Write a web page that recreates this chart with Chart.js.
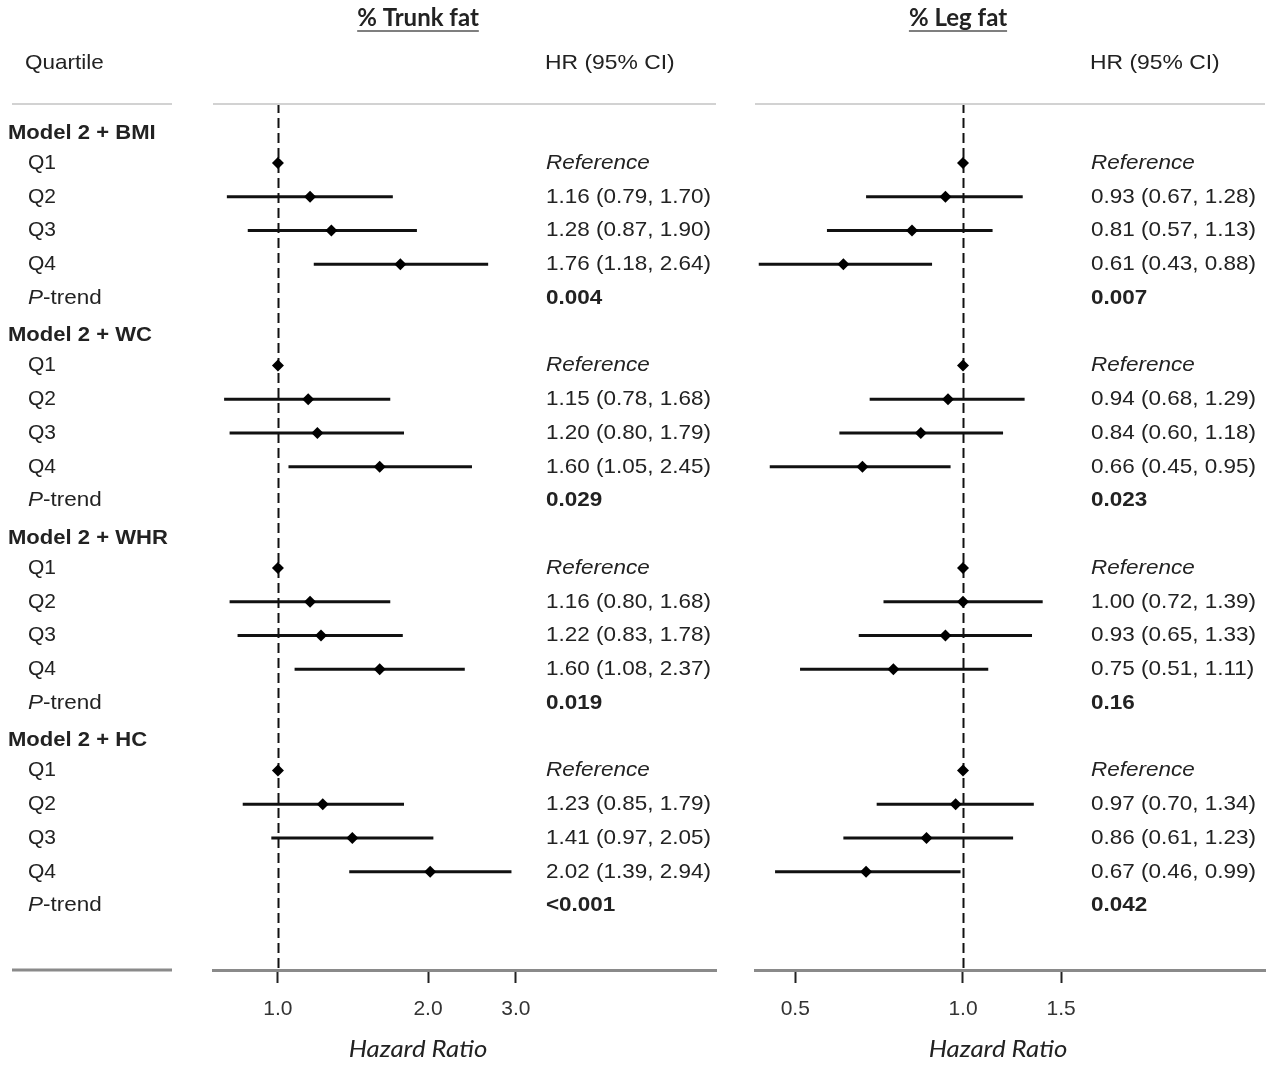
<!DOCTYPE html>
<html>
<head>
<meta charset="utf-8">
<title>Hazard ratio by quartile of % trunk fat and % leg fat</title>
<script src="https://cdn.jsdelivr.net/npm/chart.js@4.4.1/dist/chart.umd.min.js"></script>
<style>
  html, body { margin: 0; padding: 0; background: #fff; }
  #wrap { position: relative; width: 1275px; height: 1065px; }
  #wrap canvas { position: absolute; left: 0; top: 0; }
</style>
</head>
<body>
<div id="wrap">
  <canvas id="trunk-chart" width="1275" height="1065"></canvas>
  <canvas id="leg-chart" width="1275" height="1065"></canvas>
</div>
<script>
// forest plot, two panels sharing one row layout

const models = ['Model 2 + BMI', 'Model 2 + WC', 'Model 2 + WHR', 'Model 2 + HC'];
const quartiles = ['Q1', 'Q2', 'Q3', 'Q4'];

// Q2..Q4 for each model (Q1 is the reference, HR = 1)
const trunkHR   = [[1.16, 1.28, 1.76], [1.15, 1.20, 1.60], [1.16, 1.22, 1.60], [1.23, 1.41, 2.02]];
const trunkLow  = [[0.79, 0.87, 1.18], [0.78, 0.80, 1.05], [0.80, 0.83, 1.08], [0.85, 0.97, 1.39]];
const trunkHigh = [[1.70, 1.90, 2.64], [1.68, 1.79, 2.45], [1.68, 1.78, 2.37], [1.79, 2.05, 2.94]];
const trunkPTrend = ['0.004', '0.029', '0.019', '<0.001'];

const legHR   = [[0.93, 0.81, 0.61], [0.94, 0.84, 0.66], [1.00, 0.93, 0.75], [0.97, 0.86, 0.67]];
const legLow  = [[0.67, 0.57, 0.43], [0.68, 0.60, 0.45], [0.72, 0.65, 0.51], [0.70, 0.61, 0.46]];
const legHigh = [[1.28, 1.13, 0.88], [1.29, 1.18, 0.95], [1.39, 1.33, 1.11], [1.34, 1.23, 0.99]];
const legPTrend = ['0.007', '0.023', '0.16', '0.042'];

const trunkTicks = [1.0, 2.0, 3.0];
const legTicks = [0.5, 1.0, 1.5];

const FONT = '"Liberation Sans", Arial, sans-serif';
const TITLE_FONT = 'Lato, "Open Sans", sans-serif';
const TEXT = '#222';
const SX = 1.07; // the source figure is a little wider than tall

// row index: 0 = model header, 1-4 = Q1-Q4, 5 = P-trend
function rowOf(m, k) { return m * 6 + k; }

const panels = [
  { id: 'trunk-chart', title: '% Trunk fat', hr: trunkHR, low: trunkLow, high: trunkHigh, p: trunkPTrend,
    ticks: trunkTicks, min: 0.741, max: 7.56, padLeft: 213, padRight: 1275 - 716,
    textX: 546, titleX: 418, axisTitleX: 418, labels: true },
  { id: 'leg-chart', title: '% Leg fat', hr: legHR, low: legLow, high: legHigh, p: legPTrend,
    ticks: legTicks, min: 0.4234, max: 3.483, padLeft: 755, padRight: 1275 - 1265,
    textX: 1091, titleX: 958, axisTitleX: 998, labels: false }
];

function buildDatasets(p) {
  const points = [];
  const lines = [];
  models.forEach((m, i) => {
    points.push({ x: 1, y: rowOf(i, 1) });
    p.hr[i].forEach((hr, j) => {
      const r = rowOf(i, j + 2);
      points.push({ x: hr, y: r });
      lines.push({
        data: [{ x: p.low[i][j], y: r }, { x: p.high[i][j], y: r }],
        showLine: true, borderColor: '#111', borderWidth: 3, pointRadius: 0
      });
    });
  });
  // first dataset is drawn on top
  return [{
    data: points, pointStyle: 'rectRot', pointRadius: 6,
    backgroundColor: '#000', borderColor: '#000', borderWidth: 0
  }].concat(lines);
}

function hline(ctx, x1, x2, y, color, w) {
  ctx.save();
  ctx.strokeStyle = color;
  ctx.lineWidth = w;
  ctx.beginPath();
  ctx.moveTo(x1, y);
  ctx.lineTo(x2, y);
  ctx.stroke();
  ctx.restore();
}

// text drawn with a slight horizontal stretch; returns drawn width
function text(ctx, s, x, y, sx) {
  ctx.save();
  ctx.translate(x, y);
  ctx.scale(sx, 1);
  ctx.fillText(s, 0, 0);
  const w = ctx.measureText(s).width * sx;
  ctx.restore();
  return w;
}

function makePanelPlugin(p) {
  return {
    id: 'panelText',
    beforeDatasetsDraw(chart) {
      const { ctx, chartArea, scales: { x } } = chart;
      const px = Math.round(x.getPixelForValue(1)) + 0.5;
      ctx.save();
      ctx.strokeStyle = '#111';
      ctx.lineWidth = 2;
      ctx.setLineDash([10, 5]);
      ctx.beginPath();
      ctx.moveTo(px, chartArea.top);
      ctx.lineTo(px, chartArea.bottom);
      ctx.stroke();
      ctx.restore();
    },
    afterDraw(chart) {
      const { ctx, chartArea, scales: { y } } = chart;
      const rowY = r => y.getPixelForValue(r);
      ctx.save();
      ctx.fillStyle = TEXT;
      ctx.textBaseline = 'middle';

      // top rule of the panel
      hline(ctx, chartArea.left, chartArea.right, 104, '#d2d2d2', 2);

      // panel title, underlined
      ctx.font = 'bold 24px ' + TITLE_FONT;
      ctx.textAlign = 'center';
      const tw = text(ctx, p.title, p.titleX, 18, 1);
      hline(ctx, p.titleX - tw / 2, p.titleX + tw / 2, 31, '#555', 1.5);

      ctx.textAlign = 'left';
      ctx.font = '21px ' + FONT;
      text(ctx, 'HR (95% CI)', p.textX - 1, 63, SX + 0.02);

      models.forEach((m, i) => {
        ctx.font = 'italic 21px ' + FONT;
        text(ctx, 'Reference', p.textX, rowY(rowOf(i, 1)), SX);
        ctx.font = '21px ' + FONT;
        p.hr[i].forEach((hr, j) => {
          const s = hr.toFixed(2) + ' (' + p.low[i][j].toFixed(2) + ', ' + p.high[i][j].toFixed(2) + ')';
          text(ctx, s, p.textX, rowY(rowOf(i, j + 2)), SX);
        });
        ctx.font = 'bold 21px ' + FONT;
        text(ctx, p.p[i], p.textX, rowY(rowOf(i, 5)), SX);
      });

      // axis title
      ctx.font = 'italic 23px ' + TITLE_FONT;
      ctx.textAlign = 'center';
      text(ctx, 'Hazard Ratio', p.axisTitleX, 1050, 1.12);

      if (p.labels) {
        ctx.textAlign = 'left';
        ctx.font = '21px ' + FONT;
        text(ctx, 'Quartile', 25, 63, SX);
        hline(ctx, 12, 172, 104, '#d2d2d2', 2);
        hline(ctx, 12, 172, chartArea.bottom, '#8a8a8a', 3);
        models.forEach((m, i) => {
          ctx.font = 'bold 21px ' + FONT;
          text(ctx, m, 8, rowY(rowOf(i, 0) + 0.11), 1.05);
          ctx.font = '21px ' + FONT;
          quartiles.forEach((q, k) => text(ctx, q, 28, rowY(rowOf(i, k + 1)), 1.0));
          const py = rowY(rowOf(i, 5));
          ctx.font = 'italic 21px ' + FONT;
          const pw = text(ctx, 'P', 28, py, SX);
          ctx.font = '21px ' + FONT;
          text(ctx, '-trend', 28 + pw, py, SX);
        });
      }
      ctx.restore();
    }
  };
}

panels.forEach(p => {
  new Chart(document.getElementById(p.id), {
    type: 'scatter',
    data: { datasets: buildDatasets(p) },
    options: {
      responsive: false,
      animation: false,
      events: [],
      layout: { padding: { left: p.padLeft, right: p.padRight, top: 103, bottom: 0 } },
      plugins: { legend: { display: false }, tooltip: { enabled: false } },
      scales: {
        x: {
          type: 'logarithmic',
          position: 'bottom',
          min: p.min,
          max: p.max,
          bounds: 'data',
          afterBuildTicks: s => { s.ticks = p.ticks.map(v => ({ value: v })); },
          afterFit: s => { s.height = 1065 - 970; },
          grid: { display: true, drawOnChartArea: false, drawTicks: true, tickLength: 13, tickColor: '#222', tickWidth: 2 },
          border: { display: true, color: '#8a8a8a', width: 3 },
          ticks: {
            color: '#333', font: { family: FONT, size: 21 }, padding: 14,
            maxRotation: 0, autoSkip: false,
            callback: v => Number(v).toFixed(1)
          },
          title: { display: false }
        },
        y: {
          type: 'linear', display: false, reverse: true, bounds: 'data',
          min: -0.778, max: 24.911
        }
      }
    },
    plugins: [makePanelPlugin(p)]
  });
});
</script>
</body>
</html>
